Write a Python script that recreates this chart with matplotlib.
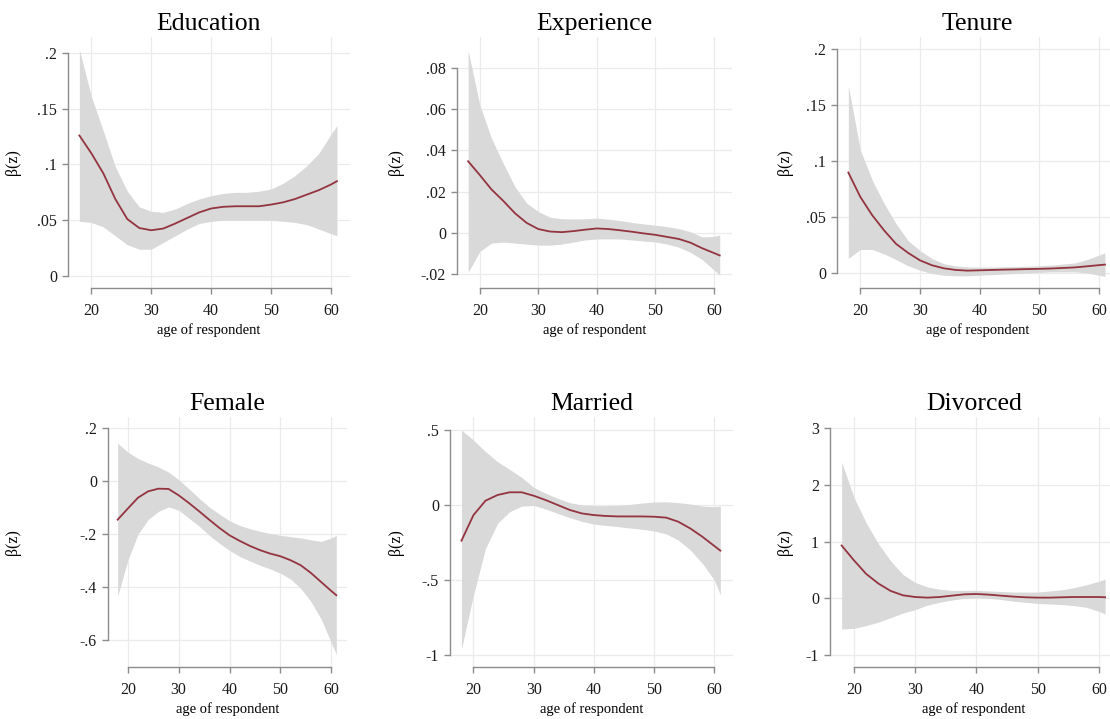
import matplotlib
matplotlib.use('Agg')
import matplotlib.pyplot as plt

plt.rcParams['font.family'] = ['Liberation Serif', 'DejaVu Serif']

# ======================== data ========================
age = [18, 20, 22, 24, 26, 28, 30, 32, 34, 36, 38, 40, 42, 44, 46, 48, 50, 52, 54, 56, 58, 60, 61]

edu_b = [.126, .110, .092, .069, .051, .043, .041, .0425, .047, .052, .057, .0605, .062, .0625, .0625, .0625, .064, .066, .069, .073, .077, .082, .085]
edu_hi = [.203, .161, .130, .098, .076, .062, .058, .057, .060, .065, .069, .072, .074, .075, .075, .076, .078, .083, .090, .099, .110, .127, .135]
edu_lo = [.049, .048, .044, .036, .028, .024, .024, .030, .036, .042, .047, .049, .050, .050, .050, .050, .050, .049, .048, .046, .042, .038, .036]

exp_b = [.0347, .028, .021, .0155, .0095, .0048, .0018, .0006, .0003, .0008, .0015, .0021, .0018, .0012, .0005, -.0003, -.001, -.002, -.003, -.0048, -.0075, -.0098, -.011]
exp_hi = [.0885, .062, .0458, .0337, .0224, .0144, .0103, .0076, .0068, .0067, .0068, .0071, .0066, .0059, .005, .0043, .0037, .003, .002, .0005, -.002, -.0018, -.001]
exp_lo = [-.0192, -.009, -.005, -.0045, -.005, -.0055, -.006, -.006, -.0055, -.0045, -.0035, -.003, -.003, -.003, -.0035, -.004, -.0045, -.0055, -.007, -.0095, -.013, -.018, -.0205]

ten_b = [.0897, .068, .0516, .038, .026, .018, .0113, .0069, .0042, .0027, .0021, .0024, .0027, .003, .0032, .0035, .0037, .004, .0045, .005, .006, .007, .0075]
ten_hi = [.167, .110, .083, .062, .044, .029, .020, .013, .0083, .0063, .0054, .0052, .0053, .0055, .0057, .006, .0065, .007, .008, .009, .012, .016, .018]
ten_lo = [.013, .021, .021, .017, .012, .0065, .0025, -.0005, -.002, -.0025, -.0025, -.002, -.0015, -.001, -.0005, 0, .0005, .001, .001, .001, 0, -.002, -.003]

fem_b = [-.146, -.104, -.063, -.039, -.029, -.030, -.054, -.083, -.114, -.146, -.177, -.205, -.226, -.245, -.261, -.274, -.284, -.299, -.318, -.347, -.381, -.415, -.431]
fem_hi = [.143, .109, .085, .068, .053, .034, .005, -.029, -.065, -.098, -.125, -.150, -.168, -.180, -.190, -.198, -.205, -.210, -.215, -.222, -.228, -.215, -.205]
fem_lo = [-.435, -.299, -.201, -.145, -.115, -.098, -.110, -.140, -.170, -.205, -.235, -.262, -.285, -.302, -.318, -.332, -.348, -.370, -.405, -.455, -.520, -.610, -.655]

mar_b = [-.238, -.067, .029, .067, .085, .085, .062, .033, 0, -.033, -.056, -.067, -.073, -.076, -.076, -.076, -.078, -.084, -.111, -.156, -.211, -.273, -.304]
mar_hi = [.50, .433, .356, .289, .238, .184, .118, .078, .044, .016, 0, -.004, -.004, -.002, .004, .013, .020, .022, .016, .007, -.007, -.011, -.007]
mar_lo = [-.96, -.60, -.289, -.122, -.045, -.007, -.002, -.027, -.056, -.084, -.109, -.127, -.136, -.144, -.153, -.162, -.173, -.193, -.233, -.300, -.389, -.500, -.600]

div_b = [.93, .67, .43, .26, .13, .053, .023, .012, .023, .047, .070, .076, .065, .047, .030, .018, .012, .012, .018, .023, .023, .023, .018]
div_hi = [2.40, 1.78, 1.33, .96, .66, .42, .28, .20, .16, .14, .14, .14, .13, .12, .11, .11, .11, .13, .15, .19, .24, .30, .34]
div_lo = [-.54, -.53, -.48, -.42, -.34, -.26, -.20, -.12, -.07, -.03, 0, .01, 0, -.02, -.05, -.07, -.09, -.10, -.11, -.13, -.16, -.23, -.28]

titles = ['Education', 'Experience', 'Tenure', 'Female', 'Married', 'Divorced']
yticks = [[0, .05, .1, .15, .2],
          [-.02, 0, .02, .04, .06, .08],
          [0, .05, .1, .15, .2],
          [-.6, -.4, -.2, 0, .2],
          [-1, -.5, 0, .5],
          [-1, 0, 1, 2, 3]]
yticklabels = [['0', '.05', '.1', '.15', '.2'],
               ['-.02', '0', '.02', '.04', '.06', '.08'],
               ['0', '.05', '.1', '.15', '.2'],
               ['-.6', '-.4', '-.2', '0', '.2'],
               ['-1', '-.5', '0', '.5'],
               ['-1', '0', '1', '2', '3']]
xticks = [20, 30, 40, 50, 60]
series = [(edu_b, edu_lo, edu_hi), (exp_b, exp_lo, exp_hi), (ten_b, ten_lo, ten_hi),
          (fem_b, fem_lo, fem_hi), (mar_b, mar_lo, mar_hi), (div_b, div_lo, div_hi)]

# ======================== layout (pixels) ========================
W, H = 1110, 719
boxes = [(68, 37, 349.5, 288), (457, 37, 732, 288), (837, 37, 1117.5, 288),
         (108, 417, 347, 667), (450, 417, 733, 667), (830, 417, 1118, 667)]
ylims = [(-.0108, .2143), (-.0268, .095), (-.0134, .2107),
         (-.702, .2415), (-1.08, .587), (-1.21, 3.194)]
ylabel_x = [21, 404, 793, 21, 404, 793]

line_col = '#93343F'
band_col = '#D9D9D9'
axis_col = '#8C8C8C'
grid_col = '#EBEBEB'

fig = plt.figure(figsize=(W / 100, H / 100), dpi=100)

for i in range(6):
    l, t, r, b = boxes[i]
    ax = fig.add_axes([l / W, 1 - b / H, (r - l) / W, (b - t) / H])
    mid, lo, hi = series[i]
    ax.fill_between(age, lo, hi, color=band_col, linewidth=0, zorder=2)
    ax.plot(age, mid, color=line_col, linewidth=1.3, zorder=3)

    ax.set_xlim(16.1, 63.1)
    ax.set_ylim(*ylims[i])
    ax.set_xticks(xticks)
    ax.set_yticks(yticks[i])
    ax.set_yticklabels(yticklabels[i])
    ax.grid(True, color=grid_col, linewidth=0.9, zorder=0)
    ax.set_axisbelow(True)

    for s in ['top', 'right']:
        ax.spines[s].set_visible(False)
    ax.spines['left'].set_bounds(yticks[i][0], yticks[i][-1])
    ax.spines['bottom'].set_bounds(20, 60)
    for s in ['left', 'bottom']:
        ax.spines[s].set_color(axis_col)
        ax.spines[s].set_linewidth(1.0)
    ax.tick_params(axis='both', colors=axis_col, labelcolor='#1a1a1a', labelsize=11.5,
                   length=4.5, width=1.0)
    ax.tick_params(axis='x', pad=6)
    ax.tick_params(axis='y', pad=3.5)

    ax.set_title(titles[i], fontsize=18.5, pad=5)
    ax.set_xlabel('age of respondent', fontsize=10.5, labelpad=3)
    ax.set_ylabel('β(z)', fontsize=11.5)
    ax.yaxis.set_label_coords((ylabel_x[i] - l) / (r - l), 0.5)
    ax.patch.set_alpha(0)

fig.savefig('out.png', dpi=100, facecolor='white')
